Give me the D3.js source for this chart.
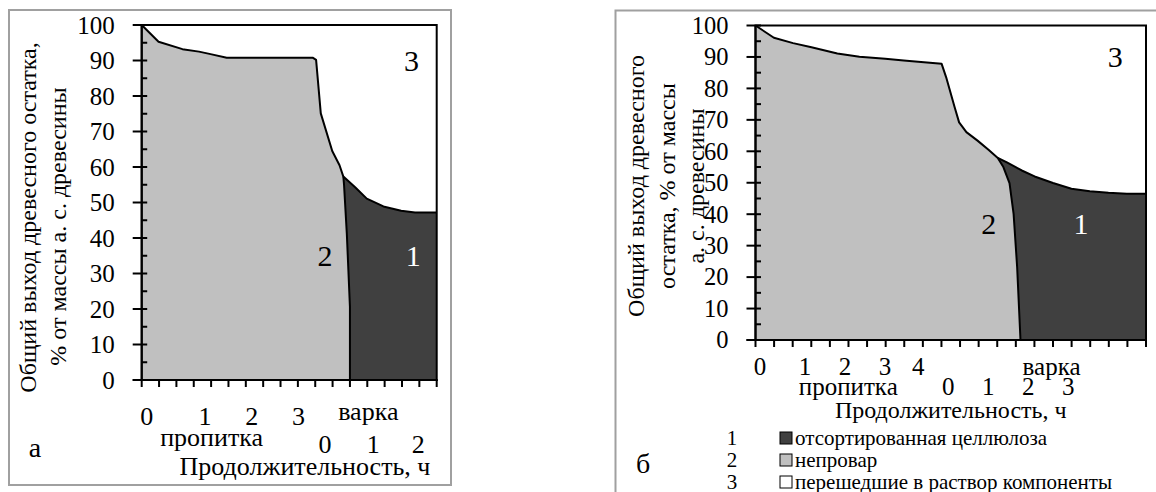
<!DOCTYPE html>
<html><head><meta charset="utf-8">
<script src="https://cdn.jsdelivr.net/npm/d3@7"></script>
<style>
html,body{margin:0;padding:0;background:#fff;}
svg{display:block;font-family:"Liberation Serif","Times New Roman",serif;}
</style></head>
<body>
<svg id="chart" width="1156" height="492"></svg>
<script>
// ---------- DATA ----------
// x positions are in axis-tick units (one unit = one tick interval)
const yTicks = [0,10,20,30,40,50,60,70,80,90,100];

// Panel "а": total residue (upper curve) and boundary between непровар and целлюлоза
const aTotalX = [0, 0.97, 2.35, 3.3, 3.97, 4.9, 9.85, 10.05, 10.32, 10.98, 11.4, 11.62, 12.3, 12.97, 13.93, 14.95, 15.75, 17];
const aTotalY = [100, 95.3, 93.2, 92.5, 91.8, 90.8, 90.8, 90.2, 75.1, 64.5, 60.5, 57.3, 54.3, 51.1, 48.9, 47.7, 47.2, 47.2];
const aBoundX = [11.62, 11.66, 11.82, 11.91, 12, 12];
const aBoundY = [57.3, 55, 41.3, 31, 20.6, 0];
const aImpLabels = ["0","1","2","3"];
const aImpPos = [0.29, 3.65, 6.34, 9.03];
const aCookLabels = ["0","1","2"];
const aCookPos = [10.57, 13.35, 15.94];

// Panel "б"
const bTotalX = [0, 0.99, 2.02, 3.01, 4.4, 5.59, 6.98, 7.97, 9.06, 10.01, 10.25, 10.71, 10.95, 11.34, 11.94, 12.53, 13.03, 13.52, 14.32, 15.01, 16.0, 16.99, 17.98, 18.98, 19.97, 21];
const bTotalY = [100, 96.1, 94.4, 93.1, 91.1, 90.1, 89.4, 88.9, 88.3, 87.8, 83.6, 74, 69.2, 66.1, 63.4, 60.5, 57.9, 56.5, 53.9, 52, 49.9, 48.1, 47.3, 46.8, 46.5, 46.5];
const bBoundX = [13.03, 13.33, 13.66, 13.88, 14.07, 14.25];
const bBoundY = [57.9, 55, 49.9, 40.1, 23.2, 0];
const bImpLabels = ["0","1","2","3","4"];
const bImpPos = [0.24, 2.66, 4.81, 6.96, 8.75];
const bCookLabels = ["0","1","2","3"];
const bCookPos = [10.36, 12.52, 14.67, 16.82];

const seriesNames = ["отсортированная целлюлоза", "непровар", "перешедшие в раствор компоненты"];
const seriesNums = ["1","2","3"];
const colors = {pulp:"#404040", raw:"#c0c0c0", dissolved:"#ffffff"};

// ---------- DRAW ----------
const svg = d3.select("#chart");

function panel(cfg){
  const g = svg.append("g");
  g.append("rect").attr("x",cfg.box[0]).attr("y",cfg.box[1])
    .attr("width",cfg.box[2]-cfg.box[0]).attr("height",cfg.box[3]-cfg.box[1])
    .attr("fill","none").attr("stroke","#a0a0a0").attr("stroke-width",2);

  const x = d3.scaleLinear().domain([0,cfg.n]).range([cfg.x0,cfg.x1]);
  const y = d3.scaleLinear().domain([0,100]).range([cfg.yb,cfg.yt]);
  const total = cfg.tx.map((t,i)=>[t,cfg.ty[i]]);
  const bound = cfg.bx.map((t,i)=>[t,cfg.by[i]]);
  const jx = bound[0][0];
  const bEnd = bound[bound.length-1][0];
  const line = d3.line().x(d=>x(d[0])).y(d=>y(d[1]));

  g.append("rect").attr("x",cfg.x0).attr("y",cfg.yt).attr("width",cfg.x1-cfg.x0).attr("height",cfg.yb-cfg.yt).attr("fill",colors.dissolved);

  const before = total.filter(d=>d[0] < jx);
  const after = total.filter(d=>d[0] > jx);
  const dark = [bound[0]].concat(after, [[cfg.n,0],[bEnd,0]], bound.slice().reverse().slice(1));
  g.append("path").attr("d",line(dark)+"Z").attr("fill",colors.pulp);
  const gray = before.concat(bound, [[0,0]]);
  g.append("path").attr("d",line(gray)+"Z").attr("fill",colors.raw);
  g.append("path").attr("d",line(total)).attr("fill","none").attr("stroke","#000").attr("stroke-width",2).attr("stroke-linejoin","round");
  g.append("path").attr("d",line(bound)).attr("fill","none").attr("stroke","#000").attr("stroke-width",2).attr("stroke-linejoin","round");
  g.append("rect").attr("x",cfg.x0).attr("y",cfg.yt).attr("width",cfg.x1-cfg.x0).attr("height",cfg.yb-cfg.yt)
    .attr("fill","none").attr("stroke","#000").attr("stroke-width",2);

  // y axis: crossing major ticks, inside minor ticks
  const ya = g.append("g").attr("transform",`translate(${cfg.x0},0)`);
  ya.selectAll("line.maj").data(yTicks).join("line")
    .attr("x1",-9).attr("x2",5.5).attr("y1",d=>y(d)).attr("y2",d=>y(d)).attr("stroke","#000").attr("stroke-width",2);
  const minor = d3.range(5,100,10);
  ya.selectAll("line.min").data(minor).join("line")
    .attr("x1",0).attr("x2",5.5).attr("y1",d=>y(d)).attr("y2",d=>y(d)).attr("stroke","#000").attr("stroke-width",2);
  ya.append("line").attr("y1",cfg.yt).attr("y2",cfg.yb).attr("stroke","#000").attr("stroke-width",2);
  ya.selectAll("text").data(yTicks).join("text")
    .attr("x",-27).attr("y",d=>y(d)).attr("dy","0.34em").attr("text-anchor","end")
    .attr("font-size",cfg.tickFont).text(d=>d);

  // x axis
  const xa = g.append("g").attr("transform",`translate(0,${cfg.yb})`);
  xa.selectAll("line.t").data(d3.range(0,cfg.n+1)).join("line")
    .attr("x1",d=>x(d)).attr("x2",d=>x(d)).attr("y1",0).attr("y2",7).attr("stroke","#000").attr("stroke-width",2);
  xa.append("line").attr("x1",cfg.x0-9).attr("x2",cfg.x1+1).attr("stroke","#000").attr("stroke-width",2);

  cfg.impL.forEach((s,i)=>g.append("text").attr("x",x(cfg.impP[i])).attr("y",cfg.row1).attr("text-anchor","middle").attr("font-size",cfg.xFont).text(s));
  cfg.cookL.forEach((s,i)=>g.append("text").attr("x",x(cfg.cookP[i])).attr("y",cfg.row2).attr("text-anchor","middle").attr("font-size",cfg.xFont).text(s));
  g.append("text").attr("x",x(cfg.varkaP)).attr("y",cfg.varkaY).attr("text-anchor","middle").attr("font-size",cfg.xFont).text("варка");
  g.append("text").attr("x",x(cfg.propP)).attr("y",cfg.propY).attr("text-anchor","middle").attr("font-size",cfg.xFont).text("пропитка");
  g.append("text").attr("x",x(cfg.titleP)).attr("y",cfg.titleY).attr("text-anchor","middle").attr("font-size",cfg.titleFont).text("Продолжительность, ч");

  cfg.yTitle.forEach((s,i)=>{
    g.append("text").attr("transform",`translate(${cfg.yTitleX[i]},${cfg.yTitleC[i]}) rotate(-90)`)
      .attr("text-anchor","middle").attr("dy","0.35em").attr("font-size",cfg.yTitleFont).text(s);
  });

  g.append("text").attr("x",x(cfg.n3[0])).attr("y",y(cfg.n3[1])).attr("dy","0.35em").attr("text-anchor","middle").attr("font-size",30).text("3");
  g.append("text").attr("x",x(cfg.n2[0])).attr("y",y(cfg.n2[1])).attr("dy","0.35em").attr("text-anchor","middle").attr("font-size",30).text("2");
  g.append("text").attr("x",x(cfg.n1[0])).attr("y",y(cfg.n1[1])).attr("dy","0.35em").attr("text-anchor","middle").attr("font-size",30).attr("fill","#fff").text("1");

  g.append("text").attr("x",cfg.letter[0]).attr("y",cfg.letter[1]).attr("text-anchor","middle").attr("font-size",28).text(cfg.letterText);
  return {g,x,y};
}

panel({
  box:[9,10,451,485], x0:141.7, x1:436.7, yt:25, yb:380, n:17,
  tx:aTotalX, ty:aTotalY, bx:aBoundX, by:aBoundY,
  tickFont:25, xFont:26, titleFont:26, yTitleFont:24,
  impL:aImpLabels, impP:aImpPos, cookL:aCookLabels, cookP:aCookPos,
  row1:425, row2:453, varkaP:13.06, varkaY:420, propP:4.03, propY:446, titleP:9.41, titleY:475,
  yTitle:["Общий выход древесного остатка,","% от массы а. с. древесины"], yTitleX:[28,58], yTitleC:[217.5,226.5],
  n3:[15.55,90], n2:[10.57,35], n1:[15.65,35],
  letter:[35,457], letterText:"а"
});

panel({
  box:[615.5,10.5,1170,510], x0:755.5, x1:1146, yt:25.5, yb:340, n:21,
  tx:bTotalX, ty:bTotalY, bx:bBoundX, by:bBoundY,
  tickFont:24.5, xFont:25, titleFont:24, yTitleFont:24,
  impL:bImpLabels, impP:bImpPos, cookL:bCookLabels, cookP:bCookPos,
  row1:375, row2:395, varkaP:15.92, varkaY:375, propP:4.99, propY:395, titleP:10.5, titleY:418,
  yTitle:["Общий выход древесного","остатка, % от массы","а. с. древесины"], yTitleX:[635.5,667,696], yTitleC:[186,186,186],
  n3:[19.34,90.2], n2:[12.55,37], n1:[17.5,37],
  letter:[643,473], letterText:"б"
});

// legend
const legY = [438,460,482];
const legFill = [colors.pulp, colors.raw, colors.dissolved];
const lg = svg.append("g");
seriesNames.forEach((s,i)=>{
  lg.append("rect").attr("x",780).attr("y",legY[i]-6).attr("width",12).attr("height",12)
    .attr("fill",legFill[i]).attr("stroke","#000").attr("stroke-width",1);
  lg.append("text").attr("x",795).attr("y",legY[i]).attr("dy","0.33em").attr("font-size",21).text(s);
  lg.append("text").attr("x",732).attr("y",legY[i]).attr("dy","0.33em").attr("text-anchor","middle").attr("font-size",21).text(seriesNums[i]);
});
</script>
</body></html>
